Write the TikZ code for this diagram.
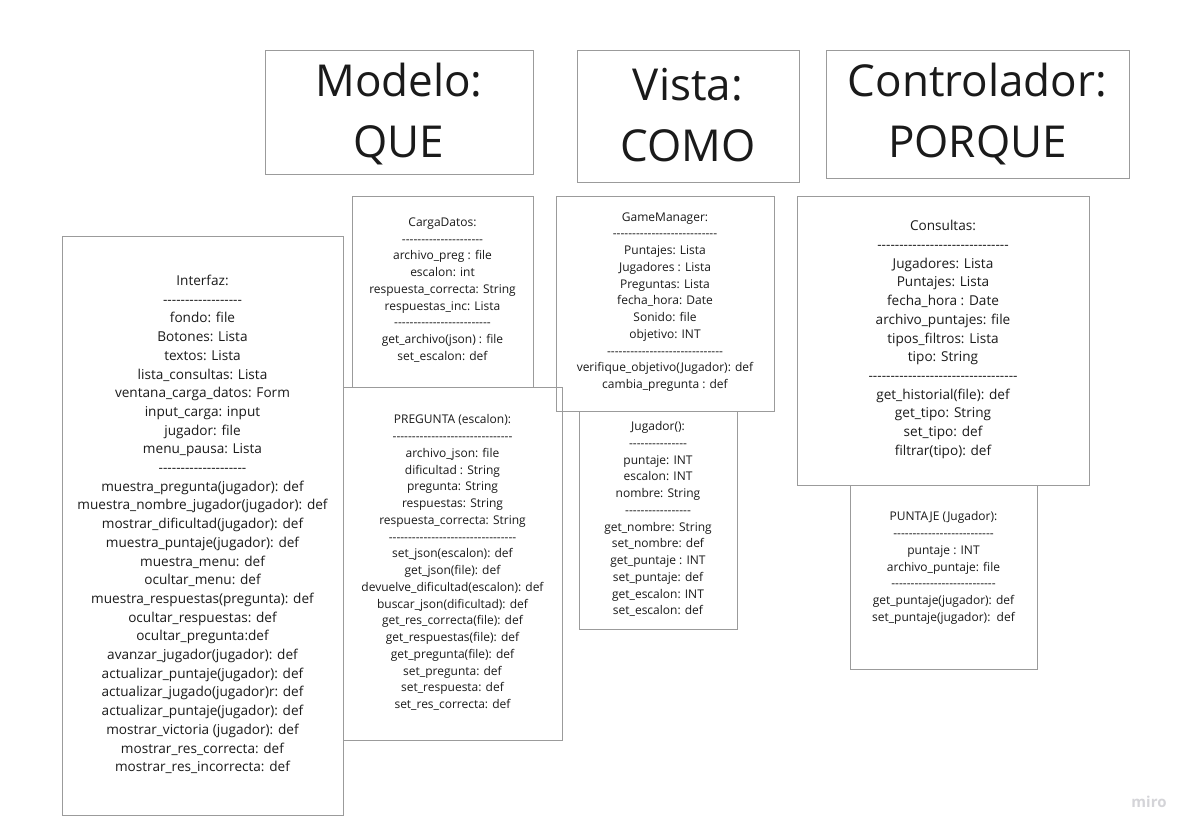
\documentclass[tikz,border=0pt]{standalone}
\usepackage{fontspec}
\setmainfont{Open Sans}[Ligatures=TeXOff]
\definecolor{boxgray}{RGB}{155,155,155}
\definecolor{ink}{RGB}{26,26,26}
\definecolor{logo}{RGB}{212,212,216}
\begin{document}
\begin{tikzpicture}[x=1pt,y=-1pt,
  box/.style={draw=boxgray, line width=1pt, inner sep=0pt},
  head/.style={text=ink, align=center, inner sep=0pt, font=\fontsize{44}{61}\selectfont},
  big/.style={text=ink, align=center, inner sep=0pt, font=\fontsize{13.6}{18.7}\selectfont},
  small/.style={text=ink, align=center, inner sep=0pt, font=\fontsize{12}{16.75}\selectfont}]
\fill[white] (0,0) rectangle (1196,836);
\useasboundingbox (0,0) rectangle (1196,836);

% header boxes
\node[box, minimum width=268, minimum height=124] (modelo) at (399,112) {};
\node[box, minimum width=222, minimum height=132] (vista) at (688,116) {};
\node[box, minimum width=303, minimum height=128] (control) at (977.5,114) {};
\node[head] (modeloT) at (399,114) {Modelo:\\QUE};
\node[head] (vistaT) at (688,115) {Vista:\\COMO};
\node[head] (controlT) at (977.5,114.5) {Controlador:\\PORQUE};

% class boxes
\node[box, minimum width=281, minimum height=579] (interfaz) at (202.5,525.5) {};
\node[box, minimum width=181, minimum height=191] (carga) at (442.5,291.5) {};
\node[box, minimum width=219, minimum height=353] (pregunta) at (452.5,563.5) {};
\node[box, minimum width=218, minimum height=215] (game) at (665,303.5) {};
\node[box, minimum width=158, minimum height=218] (jugador) at (658,520) {};
\node[box, minimum width=292, minimum height=289] (consultas) at (943,340.5) {};
\node[box, minimum width=187, minimum height=184] (puntaje) at (943.5,577) {};

\node[big] (interfazT) at (202.5,524.5) {Interfaz:\\------------------\\fondo: file\\Botones: Lista\\textos: Lista\\lista\_consultas: Lista\\ventana\_carga\_datos: Form\\input\_carga: input\\jugador: file\\menu\_pausa: Lista\\--------------------\\muestra\_pregunta(jugador): def\\muestra\_nombre\_jugador(jugador): def\\mostrar\_dificultad(jugador): def\\muestra\_puntaje(jugador): def\\muestra\_menu: def\\ocultar\_menu: def\\muestra\_respuestas(pregunta): def\\ocultar\_respuestas: def\\ocultar\_pregunta:def\\avanzar\_jugador(jugador): def\\actualizar\_puntaje(jugador): def\\actualizar\_jugado(jugador)r: def\\actualizar\_puntaje(jugador): def\\mostrar\_victoria (jugador): def\\mostrar\_res\_correcta: def\\mostrar\_res\_incorrecta: def};

\node[small] (cargaT) at (442.5,290) {CargaDatos:\\---------------------\\archivo\_preg : file\\escalon: int\\respuesta\_correcta: String\\respuestas\_inc: Lista\\-------------------------\\get\_archivo(json) : file\\set\_escalon: def};

\node[small] (preguntaT) at (452.5,562.5) {PREGUNTA (escalon):\\-------------------------------\\archivo\_json: file\\dificultad : String\\pregunta: String\\respuestas: String\\respuesta\_correcta: String\\---------------------------------\\set\_json(escalon): def\\get\_json(file): def\\devuelve\_dificultad(escalon): def\\buscar\_json(dificultad): def\\get\_res\_correcta(file): def\\get\_respuestas(file): def\\get\_pregunta(file): def\\set\_pregunta: def\\set\_respuesta: def\\set\_res\_correcta: def};

\node[small] (gameT) at (665,302) {GameManager:\\---------------------------\\Puntajes: Lista\\Jugadores : Lista\\Preguntas: Lista\\fecha\_hora: Date\\Sonido: file\\objetivo: INT\\------------------------------\\verifique\_objetivo(Jugador): def\\cambia\_pregunta : def};

\node[small] (jugadorT) at (658,519) {Jugador():\\---------------\\puntaje: INT\\escalon: INT\\nombre: String\\-----------------\\get\_nombre: String\\set\_nombre: def\\get\_puntaje : INT\\set\_puntaje: def\\get\_escalon: INT\\set\_escalon: def};

\node[big] (consultasT) at (943,339.5) {Consultas:\\------------------------------\\Jugadores: Lista\\Puntajes: Lista\\fecha\_hora : Date\\archivo\_puntajes: file\\tipos\_filtros: Lista\\tipo: String\\----------------------------------\\get\_historial(file): def\\get\_tipo: String\\set\_tipo: def\\filtrar(tipo): def};

\node[small] (puntajeT) at (943.5,568) {PUNTAJE (Jugador):\\--------------------------\\puntaje : INT\\archivo\_puntaje: file\\---------------------------\\get\_puntaje(jugador): def\\set\_puntaje(jugador):\ \ def};

\node[text=logo, inner sep=0pt, font=\fontsize{15}{18}\selectfont\bfseries] (miro) at (1149,802) {miro};
\end{tikzpicture}
\end{document}
